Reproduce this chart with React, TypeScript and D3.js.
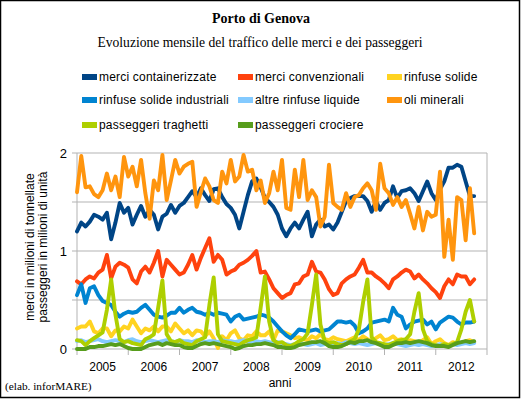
import React from 'react';
import * as d3 from 'd3';

// Porto di Genova — monthly cargo (million t) and passengers (million units).
// One value per month, index 0..93; x axis is 8 years of 12 months.

const years = ['2005', '2006', '2007', '2008', '2009', '2010', '2011', '2012'];
const yTicks = [0, 0.5, 1, 1.5, 2];
const yLabels = [0, 1, 2];

const merciContainerizzate = [
  1.20, 1.29, 1.25, 1.30, 1.37, 1.35, 1.32, 1.39, 1.12, 1.29,
  1.49, 1.39, 1.44, 1.27, 1.37, 1.46, 1.35, 1.42, 1.37, 1.22,
  1.35, 1.38, 1.47, 1.39, 1.46, 1.49, 1.55, 1.61, 1.55, 1.64,
  1.57, 1.51, 1.63, 1.64, 1.55, 1.48, 1.44, 1.37, 1.23, 1.40,
  1.57, 1.71, 1.74, 1.65, 1.54, 1.50, 1.45, 1.37, 1.23, 1.15,
  1.23, 1.29, 1.23, 1.32, 1.40, 1.15, 1.27, 1.32, 1.25, 1.27,
  1.22, 1.29, 1.40, 1.51, 1.54, 1.56, 1.56, 1.56, 1.51, 1.40,
  1.51, 1.42, 1.49, 1.52, 1.66, 1.54, 1.61, 1.62, 1.64, 1.59,
  1.51, 1.61, 1.71, 1.59, 1.52, 1.63, 1.71, 1.85, 1.85, 1.88,
  1.86, 1.71, 1.56, 1.56,
];

const merciConvenzionali = [
  0.69, 0.66, 0.71, 0.74, 0.72, 0.78, 0.81, 0.96, 0.72, 0.84,
  0.88, 0.86, 0.83, 0.71, 0.67, 0.79, 0.84, 0.78, 0.88, 1.00,
  0.74, 0.91, 0.86, 0.81, 0.76, 0.78, 0.86, 0.96, 0.81, 0.93,
  1.03, 1.13, 0.89, 0.96, 0.91, 0.76, 0.79, 0.81, 0.86, 0.88,
  0.91, 0.95, 1.00, 0.78, 0.79, 0.71, 0.62, 0.57, 0.52, 0.55,
  0.57, 0.66, 0.67, 0.74, 0.76, 0.89, 0.79, 0.78, 0.71, 0.61,
  0.55, 0.57, 0.67, 0.71, 0.74, 0.76, 0.83, 0.91, 0.78, 0.78,
  0.74, 0.71, 0.67, 0.62, 0.71, 0.74, 0.78, 0.81, 0.79, 0.72,
  0.76, 0.71, 0.67, 0.62, 0.58, 0.52, 0.64, 0.71, 0.66, 0.76,
  0.74, 0.74, 0.66, 0.71,
];

const rinfuseSolide = [
  0.21, 0.23, 0.23, 0.28, 0.18, 0.16, 0.21, 0.21, 0.13, 0.19,
  0.18, 0.23, 0.21, 0.30, 0.23, 0.16, 0.21, 0.19, 0.23, 0.18,
  0.23, 0.23, 0.18, 0.26, 0.21, 0.16, 0.19, 0.14, 0.19, 0.18,
  0.13, 0.18, 0.11, 0.01, 0.13, 0.09, 0.16, 0.19, 0.11, 0.09,
  0.14, 0.13, 0.18, 0.14, 0.14, 0.18, 0.09, 0.19, 0.18, 0.16,
  0.14, 0.11, 0.12, 0.10, 0.09, 0.13, 0.11, 0.15, 0.10, 0.09,
  0.12, 0.10, 0.09, 0.08, 0.10, 0.12, 0.09, 0.13, 0.10, 0.08,
  0.11, 0.14, 0.09, 0.10, 0.13, 0.09, 0.10, 0.06, 0.09, 0.08,
  0.07, 0.09, 0.12, 0.05, 0.08, 0.10, 0.06, 0.04, 0.07, 0.05,
  0.06, 0.08, 0.09, 0.07,
];

const rinfuseSolideIndustriali = [
  0.55, 0.66, 0.47, 0.62, 0.64, 0.55, 0.49, 0.47, 0.45, 0.38,
  0.33, 0.36, 0.38, 0.37, 0.38, 0.42, 0.45, 0.40, 0.35, 0.33,
  0.32, 0.34, 0.37, 0.37, 0.42, 0.37, 0.40, 0.42, 0.38, 0.37,
  0.35, 0.37, 0.35, 0.37, 0.36, 0.35, 0.28, 0.33, 0.35, 0.30,
  0.31, 0.32, 0.33, 0.35, 0.34, 0.32, 0.28, 0.23, 0.18, 0.14,
  0.11, 0.15, 0.20, 0.19, 0.18, 0.19, 0.20, 0.18, 0.19, 0.20,
  0.24, 0.28, 0.28, 0.27, 0.28, 0.24, 0.16, 0.18, 0.21, 0.27,
  0.28, 0.29, 0.30, 0.28, 0.42, 0.35, 0.33, 0.21, 0.25, 0.28,
  0.29, 0.30, 0.25, 0.28, 0.20, 0.27, 0.30, 0.33, 0.32, 0.28,
  0.25, 0.27, 0.27, 0.28,
];

const altreRinfuseLiquide = [
  0.08, 0.09, 0.07, 0.08, 0.09, 0.10, 0.08, 0.07, 0.08, 0.09,
  0.08, 0.07, 0.09, 0.10, 0.08, 0.07, 0.08, 0.09, 0.08, 0.07,
  0.08, 0.09, 0.08, 0.07, 0.09, 0.08, 0.08, 0.07, 0.09, 0.08,
  0.07, 0.08, 0.08, 0.07, 0.09, 0.08, 0.08, 0.07, 0.08, 0.09,
  0.08, 0.07, 0.08, 0.07, 0.08, 0.07, 0.06, 0.07, 0.06, 0.05,
  0.04, 0.05, 0.06, 0.05, 0.04, 0.05, 0.06, 0.04, 0.05, 0.06,
  0.05, 0.06, 0.05, 0.07, 0.06, 0.05, 0.06, 0.05, 0.04, 0.05,
  0.06, 0.05, 0.04, 0.05, 0.06, 0.05, 0.04, 0.03, 0.04, 0.05,
  0.04, 0.05, 0.04, 0.03, 0.04, 0.05, 0.04, 0.04, 0.05, 0.04,
  0.05, 0.06, 0.05, 0.06,
];

const oliMinerali = [
  1.60, 1.97, 1.65, 1.66, 1.58, 1.55, 1.62, 1.79, 1.62, 1.76,
  1.55, 1.96, 1.76, 1.86, 1.66, 1.93, 1.59, 1.33, 1.72, 1.62,
  1.98, 1.52, 1.72, 1.93, 1.79, 1.86, 1.89, 1.91, 1.45, 1.60,
  1.74, 1.66, 1.52, 1.49, 1.81, 1.69, 1.93, 1.71, 1.76, 1.98,
  1.81, 1.83, 1.62, 1.72, 1.49, 1.59, 1.81, 1.62, 1.93, 1.44,
  1.42, 1.83, 1.55, 1.93, 1.52, 1.62, 1.55, 1.25, 1.35, 1.88,
  1.49, 1.45, 1.42, 1.59, 1.45, 1.55, 1.57, 1.64, 1.69, 1.62,
  1.42, 1.89, 1.64, 1.59, 1.47, 1.55, 1.45, 1.52, 1.38, 1.23,
  1.45, 1.21, 1.40, 1.35, 1.37, 1.81, 0.94, 1.32, 0.91, 1.55,
  1.52, 1.11, 1.64, 1.18,
];

const passeggeriTraghetti = [
  0.09, 0.08, 0.04, 0.08, 0.11, 0.14, 0.17, 0.40, 0.71, 0.35,
  0.10, 0.07, 0.08, 0.06, 0.05, 0.04, 0.10, 0.12, 0.15, 0.42,
  0.70, 0.15, 0.08, 0.07, 0.09, 0.06, 0.05, 0.04, 0.08, 0.10,
  0.12, 0.45, 0.73, 0.15, 0.08, 0.07, 0.06, 0.05, 0.04, 0.07,
  0.09, 0.10, 0.12, 0.42, 0.74, 0.28, 0.09, 0.06, 0.07, 0.04,
  0.03, 0.05, 0.08, 0.10, 0.16, 0.45, 0.76, 0.25, 0.08, 0.06,
  0.07, 0.05, 0.04, 0.05, 0.08, 0.10, 0.20, 0.48, 0.71, 0.12,
  0.07, 0.06, 0.05, 0.04, 0.06, 0.08, 0.09, 0.10, 0.15, 0.38,
  0.57, 0.20, 0.08, 0.05, 0.04, 0.03, 0.05, 0.04, 0.05, 0.07,
  0.20, 0.38, 0.50, 0.28,
];

const passeggeriCrociere = [
  0.00, 0.00, 0.00, 0.02, 0.02, 0.03, 0.03, 0.04, 0.05, 0.04,
  0.05, 0.03, 0.01, 0.00, 0.00, 0.00, 0.02, 0.04, 0.05, 0.06,
  0.04, 0.06, 0.05, 0.04, 0.04, 0.02, 0.01, 0.01, 0.03, 0.05,
  0.06, 0.05, 0.06, 0.05, 0.04, 0.03, 0.02, 0.00, 0.01, 0.03,
  0.04, 0.04, 0.05, 0.05, 0.06, 0.05, 0.04, 0.02, 0.02, 0.01,
  0.01, 0.02, 0.04, 0.05, 0.06, 0.07, 0.07, 0.08, 0.06, 0.03,
  0.02, 0.02, 0.03, 0.05, 0.07, 0.06, 0.08, 0.08, 0.09, 0.07,
  0.06, 0.04, 0.02, 0.02, 0.04, 0.06, 0.06, 0.07, 0.06, 0.07,
  0.08, 0.07, 0.06, 0.04, 0.03, 0.03, 0.03, 0.02, 0.04, 0.06,
  0.07, 0.08, 0.07, 0.08,
];

const series = [
  { name: 'merci containerizzate', color: '#004586', values: merciContainerizzate },
  { name: 'merci convenzionali', color: '#ff420e', values: merciConvenzionali },
  { name: 'rinfuse solide', color: '#ffd320', values: rinfuseSolide },
  { name: 'rinfuse solide industriali', color: '#0084d1', values: rinfuseSolideIndustriali },
  { name: 'altre rinfuse liquide', color: '#83caff', values: altreRinfuseLiquide },
  { name: 'oli minerali', color: '#ff950e', values: oliMinerali },
  { name: 'passeggeri traghetti', color: '#aecf00', values: passeggeriTraghetti },
  { name: 'passeggeri crociere', color: '#579d1c', values: passeggeriCrociere },
];

const SANS = '"Liberation Sans", Arial, sans-serif';
const SERIF = '"Liberation Serif", "Times New Roman", serif';
const GRID = '#b3b3b3';

export default function App() {
  const x = d3.scaleLinear().domain([0, 96]).range([77, 487]);
  const y = d3.scaleLinear().domain([0, 2]).range([349, 153]);
  const line = d3
    .line<number>()
    .x((_, i) => x(i))
    .y((v) => y(v));

  const legendCols = [82, 238, 387];
  const legendRows = [74, 97, 122];

  return (
    <svg
      width={521}
      height={399}
      style={{ position: 'fixed', left: 0, top: 0, background: '#fff' }}
    >
      <rect x={0.5} y={0.5} width={519} height={397} fill="#fff" stroke="#000" strokeWidth={1.5} />

      <text x={261} y={23} textAnchor="middle" fontFamily={SERIF} fontWeight="bold" fontSize={14}>
        Porto di Genova
      </text>
      <text x={260} y={47} textAnchor="middle" fontFamily={SERIF} fontSize={13.6}>
        Evoluzione mensile del traffico delle merci e dei passeggeri
      </text>

      {series.map((s, k) => {
        const lx = legendCols[k % 3];
        const ly = legendRows[Math.floor(k / 3)];
        return (
          <g key={s.name}>
            <rect x={lx} y={ly} width={15} height={6} fill={s.color} />
            <text
              x={lx + 17}
              y={ly + 6.5}
              fontFamily={SANS}
              fontSize={12}
              letterSpacing={0.2}
              fill="#000"
            >
              {s.name}
            </text>
          </g>
        );
      })}

      {/* grid + frame */}
      {yTicks.map((t) => (
        <g key={t}>
          <line x1={77} x2={487} y1={y(t)} y2={y(t)} stroke={GRID} strokeWidth={1} />
          <line x1={72} x2={77} y1={y(t)} y2={y(t)} stroke={GRID} strokeWidth={1} />
        </g>
      ))}
      <line x1={77} x2={77} y1={153} y2={349} stroke={GRID} />
      <line x1={487} x2={487} y1={153} y2={349} stroke={GRID} />
      {d3.range(0, 97, 12).map((m) => (
        <line key={m} x1={x(m)} x2={x(m)} y1={349} y2={355} stroke={GRID} />
      ))}

      {yLabels.map((t) => (
        <text key={t} x={67} y={y(t) + 4.5} textAnchor="end" fontFamily={SANS} fontSize={13}>
          {t}
        </text>
      ))}
      {years.map((yr, k) => (
        <text key={yr} x={x(k * 12 + 6)} y={371} textAnchor="middle" fontFamily={SANS} fontSize={12}>
          {yr}
        </text>
      ))}

      <text x={280} y={387} textAnchor="middle" fontFamily={SANS} fontSize={12}>
        anni
      </text>
      <g transform="translate(34,247) rotate(-90)">
        <text x={0} y={0} textAnchor="middle" fontFamily={SANS} fontSize={12}>
          merci in milioni di tonnellate
        </text>
        <text x={0} y={12.5} textAnchor="middle" fontFamily={SANS} fontSize={12}>
          passeggeri in milioni di unità
        </text>
      </g>

      <text x={5} y={390} fontFamily={SERIF} fontSize={11.3}>
        (elab. inforMARE)
      </text>

      {series.map((s) => (
        <path
          key={s.name}
          d={line(s.values) ?? ''}
          fill="none"
          stroke={s.color}
          strokeWidth={3.9}
          strokeLinejoin="round"
          strokeLinecap="round"
        />
      ))}
    </svg>
  );
}
